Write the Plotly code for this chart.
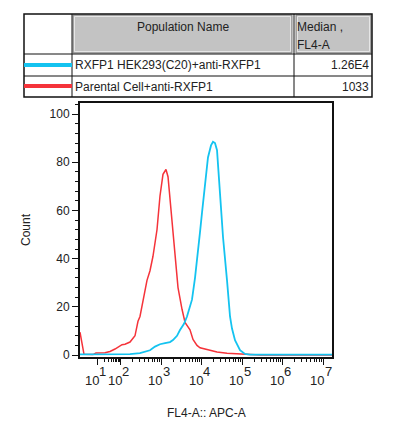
import plotly.graph_objects as go
import math

# ---- data (x in display-scale decades of FL4-A, y = Count) ----
red_x = [0.0, 0.049, 0.099, 0.321, 0.395, 0.617, 0.741, 0.864, 0.938, 1.037, 1.111, 1.235, 1.358,
         1.432, 1.481, 1.580, 1.654, 1.728, 1.802, 1.901, 1.975, 2.049, 2.123, 2.173, 2.222, 2.272,
         2.346, 2.420, 2.519, 2.593, 2.716, 2.790, 2.889, 2.963, 3.210, 3.383, 3.630, 3.951, 4.198,
         4.444, 6.222]
red_y = [9.5, 4.0, 0.3, 0.2, 0.9, 1.0, 1.5, 2.5, 3.3, 4.3, 4.5, 5.4, 8.0,
         14.0, 16.0, 25.0, 31.0, 35.0, 41.0, 52.0, 66.0, 75.0, 77.0, 74.0, 65.0, 57.0,
         41.0, 28.0, 19.0, 13.5, 10.5, 6.5, 4.0, 3.0, 2.0, 1.3, 0.8, 0.4, 0.1,
         0.0, 0.0]

cyan_x = [0.0, 1.235, 1.481, 1.728, 1.852, 1.975, 2.099, 2.222, 2.296, 2.395, 2.469, 2.568, 2.642,
          2.716, 2.765, 2.840, 2.914, 2.963, 3.012, 3.086, 3.160, 3.235, 3.284, 3.333, 3.383, 3.420,
          3.457, 3.531, 3.630, 3.704, 3.753, 3.827, 3.951, 4.074, 4.198, 6.222]
cyan_y = [0.3, 0.4, 0.8, 2.0, 3.5, 4.5, 5.0, 5.4, 6.2, 8.0, 10.4, 13.0, 16.0,
          20.0, 23.0, 32.0, 42.0, 51.0, 59.0, 72.0, 82.0, 87.0, 88.5, 88.0, 85.0, 76.0,
          66.0, 49.0, 31.0, 16.0, 11.0, 6.2, 2.0, 0.5, 0.2, 0.2]

decade_pos = [0.44, 1.0, 2.0, 3.0, 4.0, 5.0, 6.0]
decade_exp = ["1", "2", "3", "4", "5", "6", "7"]

pop_names = ["RXFP1 HEK293(C20)+anti-RXFP1", "Parental Cell+anti-RXFP1"]
medians = ["1.26E4", "1033"]
colors = ["#14c3f0", "#f5333a"]

# minor ticks: 2..9 within each decade
minor_vals = []
for i in range(len(decade_pos) - 1):
    a, b = decade_pos[i], decade_pos[i + 1]
    for k in range(2, 10):
        minor_vals.append(a + (b - a) * math.log10(k))
for k in range(2, 10):
    v = decade_pos[-1] + math.log10(k)
    if v < 6.22:
        minor_vals.append(v)

W, H = 396, 428
L, R, T, B = 80, 332, 103, 357
XR = [0, 6.222]
PXD = (R - L) / (XR[1] - XR[0])


def px(xp):
    return (xp - L) / (R - L)


def py(yp):
    return (B - yp) / (B - T)


fig = go.Figure()
fig.add_trace(go.Scatter(x=red_x, y=red_y, mode="lines",
                         line=dict(color=colors[1], width=1.5), showlegend=False))
fig.add_trace(go.Scatter(x=cyan_x, y=cyan_y, mode="lines",
                         line=dict(color=colors[0], width=1.8), showlegend=False))

shapes = []
ann = []
# table
tx0, tx1, tx2, tx3 = 24, 72, 294, 372
ty0, ty1, ty2, ty3 = 14, 54, 76, 97
# grey header cells
for (a, b) in [(tx1 + 1, tx2 - 2), (tx2 + 2, tx3 - 1)]:
    shapes.append(dict(type="rect", xref="paper", yref="paper", x0=px(a), x1=px(b),
                       y0=py(ty1 - 1), y1=py(ty0 + 1), fillcolor="#c3c3c3",
                       line=dict(color="#808080", width=1)))
    shapes.append(dict(type="rect", xref="paper", yref="paper", x0=px(a + 1.5), x1=px(b - 1.5),
                       y0=py(ty1 - 2.5), y1=py(ty0 + 2.5), fillcolor="rgba(0,0,0,0)",
                       line=dict(color="#e6e6e6", width=1)))
# outer border
shapes.append(dict(type="rect", xref="paper", yref="paper", x0=px(tx0), x1=px(tx3),
                   y0=py(ty3), y1=py(ty0), line=dict(color="#111", width=1.5)))
for xx in [tx1, tx2]:
    shapes.append(dict(type="line", xref="paper", yref="paper", x0=px(xx), x1=px(xx),
                       y0=py(ty3), y1=py(ty0), line=dict(color="#111", width=1)))
for yy in [ty1, ty2]:
    shapes.append(dict(type="line", xref="paper", yref="paper", x0=px(tx0), x1=px(tx3),
                       y0=py(yy), y1=py(yy), line=dict(color="#111", width=1)))
# color samples
for i, yy in enumerate([65, 86]):
    shapes.append(dict(type="line", xref="paper", yref="paper", x0=px(tx0), x1=px(tx1),
                       y0=py(yy), y1=py(yy), line=dict(color=colors[i], width=4)))

tf = dict(family="Liberation Sans, Arial", size=12, color="#222")
ann.append(dict(text="Population Name", x=px(183), y=py(27), xref="paper", yref="paper",
                showarrow=False, font=tf, xanchor="center", yanchor="middle"))
ann.append(dict(text="Median ,", x=px(295), y=py(27), xref="paper", yref="paper",
                showarrow=False, font=tf, xanchor="left", yanchor="middle"))
ann.append(dict(text="FL4-A", x=px(295), y=py(45), xref="paper", yref="paper",
                showarrow=False, font=tf, xanchor="left", yanchor="middle"))
for i, yy in enumerate([65, 87]):
    ann.append(dict(text=pop_names[i], x=px(73), y=py(yy), xref="paper", yref="paper",
                    showarrow=False, font=tf, xanchor="left", yanchor="middle"))
    ann.append(dict(text=medians[i], x=px(371), y=py(yy), xref="paper", yref="paper",
                    showarrow=False, font=tf, xanchor="right", yanchor="middle"))

af = dict(family="Liberation Sans, Arial", size=12, color="#222")
lf = dict(family="Liberation Sans, Arial", size=13, color="#222")
# decade tick labels: "10" with raised exponent
for pos, e in zip(decade_pos, decade_exp):
    ann.append(dict(text="10", x=pos - 6 / PXD, y=py(380), xref="x", yref="paper",
                    showarrow=False, font=lf, xanchor="center", yanchor="middle"))
    ann.append(dict(text=e, x=pos + 5 / PXD, y=py(371), xref="x", yref="paper",
                    showarrow=False, font=lf, xanchor="center", yanchor="middle"))
ann.append(dict(text="FL4-A:: APC-A", x=0.5, y=py(413), xref="paper", yref="paper",
                showarrow=False, font=af, xanchor="center", yanchor="middle"))
ann.append(dict(text="Count", x=px(26), y=0.5, xref="paper", yref="paper", textangle=-90,
                showarrow=False, font=af, xanchor="center", yanchor="middle"))

fig.update_layout(
    width=W, height=H,
    margin=dict(l=L, r=W - R, t=T, b=H - B),
    paper_bgcolor="white", plot_bgcolor="white",
    shapes=shapes, annotations=ann,
    xaxis=dict(range=XR, tickvals=decade_pos, showticklabels=False, automargin=False,
               ticks="outside", ticklen=6, tickcolor="#111", tickwidth=1,
               showline=True, linecolor="#111", linewidth=2, mirror=True,
               showgrid=False, zeroline=False,
               minor=dict(tickvals=minor_vals, ticks="outside", ticklen=3, tickcolor="#111")),
    yaxis=dict(range=[-0.8, 104.6], tickvals=[0, 20, 40, 60, 80, 100], automargin=False,
               ticks="outside", ticklen=6, tickcolor="#111", tickwidth=1,
               showline=True, linecolor="#111", linewidth=2, mirror=True,
               showgrid=False, zeroline=False, tickfont=af,
               minor=dict(dtick=4, ticks="outside", ticklen=3, tickcolor="#111")),
)

fig.write_html("out.html", config={"displayModeBar": False},
               post_script="document.body.style.margin='0';document.body.style.padding='0';")
